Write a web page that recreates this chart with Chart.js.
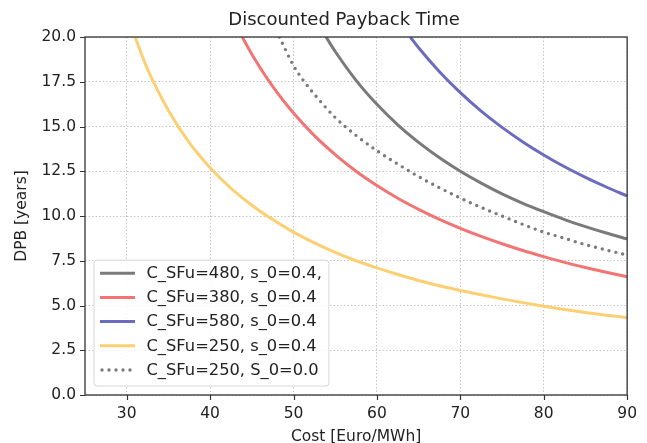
<!DOCTYPE html>
<html><head><meta charset="utf-8">
<style>html,body{margin:0;padding:0;background:#fff;overflow:hidden}#wrap{width:647px;height:443px;position:relative}</style>
</head><body><div id="wrap"><canvas id="c" width="647" height="443"></canvas></div>
<script src="https://cdn.jsdelivr.net/npm/chart.js@4.4.1/dist/chart.umd.min.js"></script>
<script>
// ---- data ----
const chartTitle = 'Discounted Payback Time';
const xTitle = 'Cost [Euro/MWh]';
const yTitle = 'DPB [years]';
const xTicks = [30, 40, 50, 60, 70, 80, 90];
const yTicks = [0, 2.5, 5, 7.5, 10, 12.5, 15, 17.5, 20];
const seriesLabels = ['C_SFu=480, s_0=0.4,', 'C_SFu=380, s_0=0.4', 'C_SFu=580, s_0=0.4', 'C_SFu=250, s_0=0.4', 'C_SFu=250, S_0=0.0'];

const gray480X = [53.9, 55, 57.5, 60, 62.5, 65, 67.5, 70, 72.5, 75, 77.5, 80, 82.5, 85, 87.5, 90];
const gray480Y = [20, 19.19, 17.58, 16.24, 15.09, 14.11, 13.25, 12.5, 11.84, 11.24, 10.71, 10.24, 9.8, 9.41, 9.05, 8.72];

const red380X = [43.85, 45, 47.5, 50, 52.5, 55, 57.5, 60, 62.5, 65, 67.5, 70, 72.5, 75, 77.5, 80, 82.5, 85, 87.5, 90];
const red380Y = [20, 19.04, 17.24, 15.75, 14.49, 13.43, 12.5, 11.7, 10.99, 10.37, 9.81, 9.31, 8.86, 8.45, 8.07, 7.73, 7.41, 7.12, 6.86, 6.61];

const blue580X = [64, 65, 67.5, 70, 72.5, 75, 77.5, 80, 82.5, 85, 87.5, 90];
const blue580Y = [20, 19.4, 18.06, 16.89, 15.86, 14.95, 14.14, 13.41, 12.75, 12.16, 11.62, 11.12];

const yellow250X = [31, 32.5, 35, 37.5, 40, 42.5, 45, 47.5, 50, 52.5, 55, 57.5, 60, 62.5, 65, 67.5, 70, 72.5, 75, 77.5, 80, 82.5, 85, 87.5, 90];
const yellow250Y = [20, 18.2, 15.9, 14.1, 12.7, 11.55, 10.6, 9.8, 9.1, 8.5, 7.97, 7.5, 7.1, 6.73, 6.4, 6.1, 5.84, 5.6, 5.37, 5.16, 4.96, 4.78, 4.61, 4.46, 4.32];

const dotted250X = [48.3, 50, 51.3, 52.5, 55, 57.5, 60, 62.5, 65, 67.5, 70, 72.5, 75, 77.5, 80, 82.5, 85, 87.5, 90];
const dotted250Y = [20, 18.4, 17.5, 16.8, 15.5, 14.5, 13.65, 12.9, 12.2, 11.58, 11.0, 10.48, 10.0, 9.53, 9.1, 8.75, 8.4, 8.1, 7.82];

// ---- build ----
const FONT = 'DejaVu Sans';
const pts = (xs, ys) => xs.map((x, i) => ({x: x, y: ys[i]}));
function ds(label, xs, ys, color, dash) {
  return {
    label: label, data: pts(xs, ys), borderColor: color, backgroundColor: color,
    borderWidth: dash ? 3.4 : 3, pointRadius: 0, fill: false,
    cubicInterpolationMode: 'monotone',
    borderDash: dash || [], borderCapStyle: dash ? 'round' : 'butt'
  };
}

const titlePlugin = {
  id: 'plotTitle',
  afterDraw(chart) {
    const ctx = chart.ctx, ca = chart.chartArea;
    ctx.save();
    ctx.font = '18px "' + FONT + '"';
    ctx.fillStyle = '#222';
    ctx.textAlign = 'center';
    ctx.textBaseline = 'middle';
    ctx.fillText(chartTitle, (ca.left + ca.right) / 2 - 12, 20);
    ctx.restore();
  }
};

const legendPlugin = {
  id: 'insideLegend',
  afterDatasetsDraw(chart) {
    const ctx = chart.ctx, ca = chart.chartArea;
    const sets = chart.data.datasets;
    ctx.save();
    ctx.font = '16.3px "' + FONT + '"';
    let tw = 0;
    sets.forEach(d => { tw = Math.max(tw, ctx.measureText(d.label).width); });
    const padL = 6, lineW = 35, gap = 11.5, padR = 7, rowH = 24.2, padT = 13, padB = 16;
    const w = padL + lineW + gap + tw + padR;
    const h = padT + rowH * (sets.length - 1) + padB;
    const x0 = ca.left + 9, y0 = ca.bottom - 9 - h;
    ctx.beginPath();
    if (ctx.roundRect) ctx.roundRect(x0, y0, w, h, 3); else ctx.rect(x0, y0, w, h);
    ctx.fillStyle = 'rgba(255,255,255,0.85)';
    ctx.fill();
    ctx.lineWidth = 1;
    ctx.strokeStyle = '#d6d6d6';
    ctx.stroke();
    sets.forEach((d, i) => {
      const cy = y0 + padT + i * rowH;
      ctx.beginPath();
      ctx.setLineDash(d.borderDash || []);
      ctx.lineCap = d.borderCapStyle;
      ctx.strokeStyle = d.borderColor;
      ctx.lineWidth = d.borderWidth;
      ctx.moveTo(x0 + padL + (d.borderDash.length ? 2 : 0), cy);
      ctx.lineTo(x0 + padL + lineW, cy);
      ctx.stroke();
      ctx.setLineDash([]);
      ctx.fillStyle = '#222';
      ctx.textBaseline = 'middle';
      ctx.textAlign = 'left';
      ctx.fillText(d.label, x0 + padL + lineW + gap, cy + 0.5);
    });
    ctx.restore();
  }
};

const framePlugin = {
  id: 'frame',
  afterDraw(chart) {
    const ctx = chart.ctx, ca = chart.chartArea;
    const xs = chart.scales.x, ys = chart.scales.y;
    ctx.save();
    ctx.strokeStyle = '#333';
    ctx.lineWidth = 1.3;
    ctx.strokeRect(ca.left, ca.top, ca.right - ca.left, ca.bottom - ca.top);
    ctx.beginPath();
    xTicks.forEach(v => { const p = Math.round(xs.getPixelForValue(v)) + 0.5; ctx.moveTo(p, ca.bottom); ctx.lineTo(p, ca.bottom + 5); });
    yTicks.forEach(v => { const p = Math.round(ys.getPixelForValue(v)) + 0.5; ctx.moveTo(ca.left, p); ctx.lineTo(ca.left - 5, p); });
    ctx.lineWidth = 1.2;
    ctx.stroke();
    ctx.restore();
  }
};

new Chart(document.getElementById('c'), {
  type: 'line',
  data: {
    datasets: [
      ds(seriesLabels[0], gray480X, gray480Y, '#7a7a7a'),
      ds(seriesLabels[1], red380X, red380Y, '#f27474'),
      ds(seriesLabels[2], blue580X, blue580Y, '#6c6cbf'),
      ds(seriesLabels[3], yellow250X, yellow250Y, '#fdcf73'),
      ds(seriesLabels[4], dotted250X, dotted250Y, '#7a7a7a', [0, 7])
    ]
  },
  options: {
    responsive: false, animation: false, devicePixelRatio: 1,
    layout: {padding: {left: 0, right: 10, top: 37, bottom: 0}},
    plugins: {
      legend: {display: false}, tooltip: {enabled: false}, title: {display: false}
    },
    scales: {
      x: {
        type: 'linear', min: 25, max: 90,
        afterBuildTicks: s => { s.ticks = xTicks.map(v => ({value: v})); },
        afterFit: s => { s.height = 48; },
        grid: {color: '#c4c4c4', lineWidth: 1, drawTicks: false},
        border: {display: false, dash: [1.5, 2]},
        ticks: {color: '#222', font: {family: FONT, size: 15.5}, padding: 10, maxRotation: 0, callback: v => String(v)},
        title: {display: true, text: xTitle, color: '#222', font: {family: FONT, size: 15.5}, padding: {top: 0, bottom: -3}}
      },
      y: {
        type: 'linear', min: 0, max: 20,
        afterBuildTicks: s => { s.ticks = yTicks.map(v => ({value: v})); },
        afterFit: s => { s.width = 85; },
        grid: {color: '#c4c4c4', lineWidth: 1, drawTicks: false},
        border: {display: false, dash: [1.5, 2]},
        ticks: {color: '#222', font: {family: FONT, size: 15.5}, padding: 9, callback: v => Number(v).toFixed(1)},
        title: {display: true, text: yTitle, color: '#222', font: {family: FONT, size: 15.5}, padding: {top: 13}}
      }
    }
  },
  plugins: [legendPlugin, framePlugin, titlePlugin]
});
</script>
</body></html>
